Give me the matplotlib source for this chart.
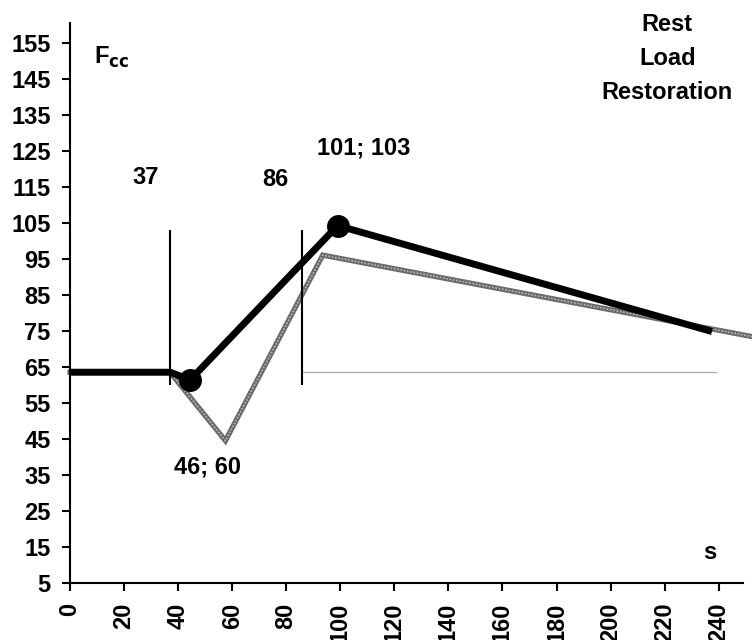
import matplotlib
matplotlib.use("Agg")
import matplotlib.pyplot as plt

# values
black_x = [0, 37, 44.5, 99, 237.5]
black_y = [63.5, 63.5, 61.4, 104.2, 74.8]
marker_x = [44.5, 99]
marker_y = [61.4, 104.2]
gray_x = [0, 37, 57.5, 93.5, 260]
gray_y = [63.5, 63.5, 44.5, 96.0, 72.3]
base_x = [86, 239]
base_y = [63.5, 63.5]
vlines_x = [37, 86]
vlines_span = (60, 103)
xticks = list(range(0, 241, 20))
yticks = list(range(5, 156, 10))
notes = [("37", 28, 117.5), ("86", 76, 117), ("101; 103", 108.5, 125.8),
         ("46; 60", 50.7, 37.2), ("s", 236.7, 13.6)]

plt.rcParams['font.family'] = ['Liberation Sans', 'DejaVu Sans']
plt.rcParams['font.weight'] = 'bold'
fs = 17

fig = plt.figure(figsize=(7.52, 6.4), dpi=100)
ax = fig.add_axes([0.0931, 0.089, 0.895, 0.8755])

ax.plot(base_x, base_y, color='#b0b0b0', lw=1.0, zorder=1)
ax.plot(gray_x, gray_y, color='#6a6a6a', lw=3.8, solid_joinstyle='miter',
        clip_on=False, zorder=2)
ax.plot(gray_x, gray_y, color='#b8b8b8', lw=1.2, ls=(0, (1, 1)),
        clip_on=False, zorder=2)
ax.vlines(vlines_x, *vlines_span, color='black', lw=1.5, zorder=3)
ax.plot(black_x, black_y, color='black', lw=5, solid_capstyle='butt', zorder=4)
ax.plot(marker_x, marker_y, 'o', color='black', ms=15.5, zorder=5)

for t, x, y in notes:
    ax.text(x, y, t, fontsize=fs, fontweight='bold', ha='center', va='center')
ax.text(9, 151, r'F$_{\mathbf{cc}}$', fontsize=fs, fontweight='bold',
        ha='left', va='center')
ax.text(221, 160, 'Rest', fontsize=fs, fontweight='bold', ha='center',
        va='center', clip_on=False)
ax.text(221, 150.5, 'Load', fontsize=fs, fontweight='bold', ha='center',
        va='center', clip_on=False)
ax.text(221, 141, 'Restoration', fontsize=fs, fontweight='bold',
        ha='center', va='center', clip_on=False)

ax.set_xlim(0, 249)
ax.set_ylim(5, 160.5)
ax.set_xticks(xticks)
ax.set_yticks(yticks)
ax.tick_params(axis='both', direction='out', length=6, width=1.5,
               labelsize=fs, pad=8)
ax.tick_params(axis='x', labelrotation=90)
for lab in ax.get_xticklabels() + ax.get_yticklabels():
    lab.set_fontweight('bold')
for s in ('top', 'right'):
    ax.spines[s].set_visible(False)
for s in ('left', 'bottom'):
    ax.spines[s].set_linewidth(1.5)

fig.savefig('out.png', dpi=100)
